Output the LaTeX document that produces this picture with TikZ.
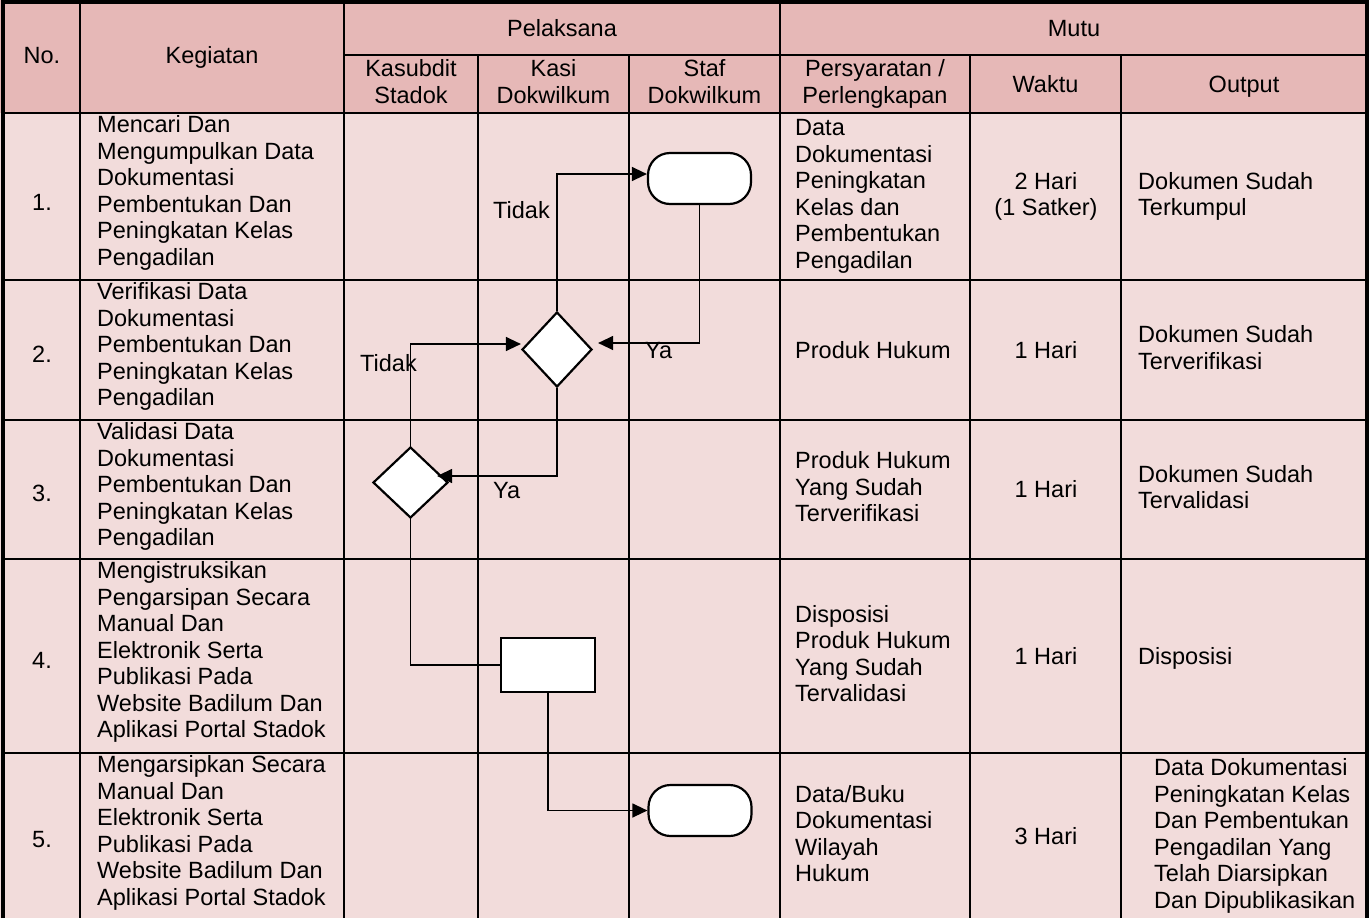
\documentclass[tikz,border=0pt]{standalone}
\usepackage{fontspec}
\setmainfont{Liberation Sans}
\usetikzlibrary{shapes.geometric,arrows.meta,calc}
\definecolor{headfill}{HTML}{E6B8B7}
\definecolor{bodyfill}{HTML}{F2DCDB}
\newcommand\cellfont{\fontsize{23.5}{26.5}\selectfont}
\newcommand\cellstrut{\rule[-5.2pt]{0pt}{26.5pt}}

\begin{document}
\begin{tikzpicture}[x=1pt,y=-1pt,
  txt/.style={inner sep=0pt, font=\cellfont,
    execute at begin node=\cellstrut, execute at end node=\cellstrut},
  lft/.style={txt, align=left},
  ctr/.style={txt, align=center},
  keg/.style={lft, anchor=north west},
  req/.style={lft, anchor=west},
  grid/.style={line width=2.3pt},
  frame/.style={line width=4pt},
  flow/.style={line width=1.3pt},
  arr/.style={flow, -{Triangle[length=15pt,width=14pt]}},
  shapeline/.style={draw, fill=white, line width=2.2pt},
  terminal/.style={shapeline, rectangle, rounded corners=22pt,
    minimum width=103pt, minimum height=51pt, inner sep=0pt},
  decision/.style={shapeline, diamond, minimum width=70pt,
    minimum height=75pt, inner sep=0pt},
  process/.style={shapeline, rectangle, minimum width=94pt,
    minimum height=54pt, inner sep=0pt},
  lbl/.style={inner sep=0pt, font=\cellfont, anchor=base west},
]
\useasboundingbox (0,0) rectangle (1372,918);

% cell backgrounds
\fill[white] (0,0) rectangle (1372,918);
\fill[headfill] (0,0) rectangle (1368,113);
\fill[bodyfill] (0,113) rectangle (1368,918);

% table rules
\draw[grid] (344,55) -- (1367,55);
\foreach \yy in {113,280,420,559,753}
  \draw[grid] (3,\yy) -- (1367,\yy);
\foreach \xx in {80,344,780}
  \draw[grid] (\xx,0) -- (\xx,918);
\foreach \xx in {478,629,970,1121}
  \draw[grid] (\xx,55) -- (\xx,918);
\draw[frame] (3,918) -- (3,2) -- (1367,2) -- (1367,918);

% header
\node[ctr] (hno) at (42,55) {No.};
\node[ctr] (hkeg) at (212,55) {Kegiatan};
\node[ctr] (hpel) at (562,28) {Pelaksana};
\node[ctr] (hmutu) at (1074,28) {Mutu};
\node[ctr] (hkas) at (411,84) {Kasubdit\\Stadok};
\node[ctr] (hkasi) at (553.5,84) {Kasi\\Dokwilkum};
\node[ctr] (hstaf) at (704.5,84) {Staf\\Dokwilkum};
\node[ctr] (hsyarat) at (875,84) {Persyaratan /\\Perlengkapan};
\node[ctr] (hwaktu) at (1045.5,84) {Waktu};
\node[ctr] (houtput) at (1244,84) {Output};

% row numbers
\node[ctr] (n1) at (42,202) {1.};
\node[ctr] (n2) at (42,354) {2.};
\node[ctr] (n3) at (42,493) {3.};
\node[ctr] (n4) at (42,660) {4.};
\node[ctr] (n5) at (42,839) {5.};

% activities
\node[keg] (k1) at (97,115.7) {Mencari Dan\\Mengumpulkan Data\\Dokumentasi\\Pembentukan Dan\\Peningkatan Kelas\\Pengadilan};
\node[keg] (k2) at (97,282.7) {Verifikasi Data\\Dokumentasi\\Pembentukan Dan\\Peningkatan Kelas\\Pengadilan};
\node[keg] (k3) at (97,422.7) {Validasi Data\\Dokumentasi\\Pembentukan Dan\\Peningkatan Kelas\\Pengadilan};
\node[keg] (k4) at (97,561.7) {Mengistruksikan\\Pengarsipan Secara\\Manual Dan\\Elektronik Serta\\Publikasi Pada\\Website Badilum Dan\\Aplikasi Portal Stadok};
\node[keg] (k5) at (97,755.7) {Mengarsipkan Secara\\Manual Dan\\Elektronik Serta\\Publikasi Pada\\Website Badilum Dan\\Aplikasi Portal Stadok};

% requirements
\node[req] (s1) at (795,196.5) {Data\\Dokumentasi\\Peningkatan\\Kelas dan\\Pembentukan\\Pengadilan};
\node[req] (s2) at (795,350) {Produk Hukum};
\node[req] (s3) at (795,489.5) {Produk Hukum\\Yang Sudah\\Terverifikasi};
\node[req] (s4) at (795,656) {Disposisi\\Produk Hukum\\Yang Sudah\\Tervalidasi};
\node[req] (s5) at (795,836) {Data/Buku\\Dokumentasi\\Wilayah\\Hukum};

% time
\node[ctr] (w1) at (1046,196.5) {2 Hari\\(1 Satker)};
\node[ctr] (w2) at (1046,350) {1 Hari};
\node[ctr] (w3) at (1046,489.5) {1 Hari};
\node[ctr] (w4) at (1046,656) {1 Hari};
\node[ctr] (w5) at (1046,836) {3 Hari};

% output
\node[req] (o1) at (1138,196.5) {Dokumen Sudah\\Terkumpul};
\node[req] (o2) at (1138,350) {Dokumen Sudah\\Terverifikasi};
\node[req] (o3) at (1138,489.5) {Dokumen Sudah\\Tervalidasi};
\node[req] (o4) at (1138,656) {Disposisi};
\node[req] (o5) at (1154,836) {Data Dokumentasi\\Peningkatan Kelas\\Dan Pembentukan\\Pengadilan Yang\\Telah Diarsipkan\\Dan Dipublikasikan};

% flow shapes
\node[terminal] (t1) at (699.5,178.5) {};
\node[decision] (d1) at (557,349.5) {};
\node[decision, minimum width=75pt, minimum height=71pt] (d2) at (410.5,482.5) {};
\node[process] (p1) at (548,665) {};
\node[terminal] (t2) at (700,810.5) {};

% connectors
\draw[arr] (d1.north) |- ($(t1.west)+(0,-4.5)$);
\draw[arr] (t1.south) |- ($(d1.east)+(5,-6.5)$);
\draw[arr] (d2.north) |- ($(d1.west)+(0,-5.5)$);
\draw[arr] (d1.south) |- ($(d2.east)+(-12,-6.5)$);
\draw[flow] (d2.south) |- (p1.west);
\draw[arr] (p1.south) |- (t2.west);

% branch labels
\node[lbl] (tidak1) at (493,218) {Tidak};
\node[lbl] (tidak2) at (360,371) {Tidak};
\node[lbl] (ya1) at (645,358) {Ya};
\node[lbl] (ya2) at (493,498) {Ya};
\end{tikzpicture}
\end{document}
